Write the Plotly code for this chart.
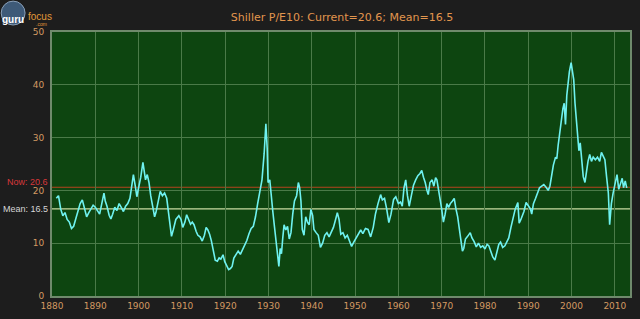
import plotly.graph_objects as go

# ---- data ----
years = [1881.0,1881.5,1882.0,1882.5,1883.0,1883.5,1884.0,1884.5,1885.0,1885.5,1886.0,1886.5,1887.0,1887.5,1888.0,1888.5,
1889.0,1889.5,1890.0,1890.5,1891.0,1891.5,1892.0,1892.3,1892.7,1893.2,1893.6,1894.0,1894.5,1895.0,1895.5,1896.0,1896.5,
1897.0,1897.5,1898.0,1898.4,1898.8,1899.2,1899.6,1900.0,1900.5,1901.0,1901.3,1901.6,1902.0,1902.4,1902.8,1903.3,1903.7,
1904.0,1904.5,1905.0,1905.5,1906.0,1906.5,1907.0,1907.6,1908.0,1908.6,1909.3,1909.8,1910.2,1910.7,1911.1,1911.6,1912.0,
1912.4,1912.8,1913.3,1913.7,1914.2,1914.7,1915.2,1915.6,1916.0,1916.4,1916.8,1917.3,1917.7,1918.2,1918.6,1919.0,1919.5,
1919.9,1920.4,1920.8,1921.2,1921.6,1922.0,1922.5,1923.0,1923.5,1924.0,1924.5,1925.0,1925.5,1926.0,1926.5,1927.0,1927.5,
1928.0,1928.5,1929.0,1929.4,1929.7,1929.9,1930.3,1930.7,1931.0,1931.4,1931.8,1932.1,1932.4,1932.7,1933.0,1933.3,1933.6,
1934.0,1934.4,1934.8,1935.2,1935.6,1936.0,1936.5,1936.9,1937.2,1937.5,1937.8,1938.2,1938.6,1939.0,1939.4,1939.8,1940.2,
1940.5,1941.0,1941.5,1942.0,1942.5,1943.0,1943.5,1944.0,1944.5,1945.0,1945.5,1945.9,1946.3,1946.7,1947.2,1947.7,1948.2,
1948.6,1949.2,1949.7,1950.2,1950.8,1951.3,1951.8,1952.4,1953.0,1953.6,1954.2,1954.7,1955.3,1955.9,1956.3,1956.8,1957.3,
1957.8,1958.3,1958.9,1959.4,1960.0,1960.5,1960.9,1961.3,1961.7,1962.1,1962.5,1963.0,1963.5,1964.0,1964.5,1965.0,1965.4,
1965.8,1966.2,1966.6,1966.9,1967.3,1967.8,1968.2,1968.6,1968.9,1969.3,1969.7,1970.0,1970.4,1970.8,1971.2,1971.6,1972.0,
1972.5,1972.9,1973.3,1973.7,1974.0,1974.4,1974.8,1975.1,1975.5,1976.0,1976.6,1977.0,1977.5,1978.0,1978.5,1979.0,1979.5,
1980.0,1980.5,1980.9,1981.4,1981.8,1982.3,1982.7,1983.2,1983.6,1984.1,1984.6,1985.1,1985.5,1986.0,1986.5,1987.0,1987.6,
1987.9,1988.3,1988.7,1989.0,1989.5,1990.0,1990.5,1990.8,1991.2,1991.7,1992.2,1992.6,1993.1,1993.6,1994.2,1994.6,1995.0,
1995.4,1995.8,1996.3,1996.6,1996.9,1997.3,1997.6,1998.0,1998.3,1998.6,1998.9,1999.2,1999.5,1999.9,2000.2,2000.5,2000.8,
2001.1,2001.4,2001.7,2002.0,2002.4,2002.7,2003.1,2003.4,2003.8,2004.2,2004.6,2005.0,2005.5,2006.0,2006.5,2006.9,2007.3,
2007.7,2008.1,2008.5,2008.8,2009.2,2009.6,2010.0,2010.5,2010.9,2011.3,2011.7,2012.0,2012.4,2012.7,2012.9]
pe = [18.5,19.0,16.5,15.2,15.8,14.5,14.0,12.8,13.2,14.5,16.0,17.5,18.2,16.5,15.0,15.8,
16.5,17.2,16.8,16.0,15.5,17.5,19.5,18.0,17.0,15.3,14.6,15.5,16.8,16.2,17.5,16.8,16.0,
17.0,17.5,18.5,20.5,23.0,21.0,18.8,20.5,22.5,25.3,23.0,22.0,23.0,21.5,19.0,16.5,15.0,
15.8,17.5,19.8,19.0,19.5,18.5,15.5,11.3,12.5,14.5,15.2,14.5,13.0,14.0,15.4,14.2,13.6,
14.0,13.5,12.2,11.5,11.2,10.4,11.5,13.0,12.5,11.7,10.5,8.0,6.8,6.6,7.2,7.0,7.8,
6.5,5.6,5.0,5.2,5.6,7.2,8.0,8.5,7.9,8.8,9.8,10.5,11.8,12.8,13.2,15.0,17.5,
19.8,22.0,27.0,32.6,28.0,21.5,22.0,18.0,16.0,13.0,9.5,7.5,5.6,9.0,8.0,11.0,13.5,
12.5,13.2,10.8,12.0,15.5,18.0,19.0,21.5,20.5,18.0,12.6,11.5,15.0,14.0,13.5,16.4,15.2,
12.6,12.0,11.5,9.2,10.0,11.5,12.0,11.2,12.0,13.0,14.5,15.8,14.5,11.7,12.0,11.0,11.5,
10.6,9.4,10.2,11.0,12.0,12.5,11.8,12.8,12.6,11.2,13.0,15.5,17.5,19.2,18.2,18.5,16.5,
13.9,15.5,18.3,18.8,17.5,17.8,17.0,20.5,22.0,19.0,17.0,19.0,21.0,22.0,22.8,23.2,23.8,
22.5,21.5,20.0,19.2,21.5,22.0,20.8,22.4,22.0,19.5,18.0,16.5,14.0,15.5,17.5,16.8,17.5,
18.0,18.5,16.5,15.0,13.2,11.0,8.5,9.0,10.8,11.3,12.0,11.0,10.3,9.3,10.0,9.2,9.5,
8.9,9.8,9.5,8.5,7.4,6.8,8.0,9.8,10.2,9.2,9.5,10.5,11.0,13.0,14.5,16.5,17.7,
13.8,14.5,15.2,16.0,17.7,17.0,16.5,15.5,17.5,18.5,19.5,20.5,20.8,21.1,20.5,20.0,20.8,
23.0,24.8,26.3,26.0,28.5,31.5,33.5,35.5,36.5,32.5,38.0,40.5,42.5,44.2,42.5,41.0,36.5,
33.0,30.5,27.5,29.0,26.0,22.6,21.5,23.5,25.5,26.8,25.5,26.3,25.8,26.3,25.5,27.2,26.5,
25.8,22.5,19.5,13.5,17.5,19.5,21.0,23.0,20.2,21.5,22.3,20.5,21.8,20.6,20.6]

current = 20.6
mean = 16.5
title_text = "Shiller P/E10: Current=20.6; Mean=16.5"
x_ticks = [1880, 1890, 1900, 1910, 1920, 1930, 1940, 1950, 1960, 1970, 1980, 1990, 2000, 2010]
y_ticks = [0, 10, 20, 30, 40, 50]

# ---- layout constants ----
W, H = 640, 319
L, R, T, B = 52, 8, 32, 22
PW, PH = W - L - R, H - T - B
tick_color = "#d39a62"
font_fam = "DejaVu Sans, Verdana, sans-serif"
label_fam = "Liberation Sans, Arial, sans-serif"

def px(xp):
    return (xp - L) / PW

def py(yp):
    return (H - B - yp) / PH

fig = go.Figure()
fig.add_trace(go.Scatter(x=years, y=pe, mode="lines",
                         line=dict(color="#6ff2f0", width=1.6), hoverinfo="skip",
                         showlegend=False))

fig.add_hline(y=current, line=dict(color="#b5451e", width=1.2), layer="below")
fig.add_hline(y=mean, line=dict(color="#c9dca2", width=1.2), layer="below")

fig.add_annotation(x=0, xref="paper", xanchor="right", xshift=-3, y=current, yref="y",
                   yanchor="bottom", yshift=-1, text="Now: %.1f" % current, showarrow=False,
                   borderpad=0, font=dict(color="#d8383a", size=9, family=label_fam))
fig.add_annotation(x=0, xref="paper", xanchor="right", xshift=-3, y=mean, yref="y",
                   text="Mean: %.1f" % mean, showarrow=False, borderpad=0,
                   font=dict(color="#d6d6d6", size=9, family=label_fam))

# logo
fig.add_shape(type="circle", xref="paper", yref="paper",
              x0=px(1), x1=px(25), y0=py(25), y1=py(1),
              fillcolor="#3e5a78", line=dict(color="#8aa0b8", width=1))
fig.add_annotation(x=px(1), y=py(13), xref="paper", yref="paper", xanchor="left",
                   text="<b>guru</b>", showarrow=False, borderpad=0,
                   font=dict(color="#ffffff", size=10, family=label_fam))
fig.add_annotation(x=px(27), y=py(9.5), xref="paper", yref="paper", xanchor="left",
                   text="focus", showarrow=False, borderpad=0,
                   font=dict(color="#e09a3a", size=10, family=label_fam))
fig.add_annotation(x=px(48), y=py(19.5), xref="paper", yref="paper", xanchor="right",
                   text=".com", showarrow=False, borderpad=0,
                   font=dict(color="#e09a3a", size=5, family=label_fam))

fig.update_layout(
    width=W, height=H,
    margin=dict(l=L, r=R, t=T, b=B, pad=0),
    paper_bgcolor="#1d1d1d",
    plot_bgcolor="#0d4510",
    title=dict(text=title_text, x=(342) / W, xanchor="center", y=1 - 17 / H, yanchor="middle",
               font=dict(color="#e2964e", size=11, family=font_fam)),
    xaxis=dict(range=[1880, 2013.5], tickvals=x_ticks, ticktext=[str(v) for v in x_ticks],
               showgrid=True, gridcolor="#4a7a48", gridwidth=1, zeroline=False,
               showline=True, linecolor="#6f8a6c", linewidth=2, mirror=True,
               ticks="", tickfont=dict(color=tick_color, size=9, family=font_fam)),
    yaxis=dict(range=[0, 50], tickvals=y_ticks, ticktext=[str(v) for v in y_ticks],
               showgrid=True, gridcolor="#4a7a48", gridwidth=1, zeroline=False,
               showline=True, linecolor="#6f8a6c", linewidth=2, mirror=True,
               ticks="outside", ticklen=4, tickcolor="rgba(0,0,0,0)",
               tickfont=dict(color=tick_color, size=9, family=font_fam)),
)

fig.write_html("out.html")
